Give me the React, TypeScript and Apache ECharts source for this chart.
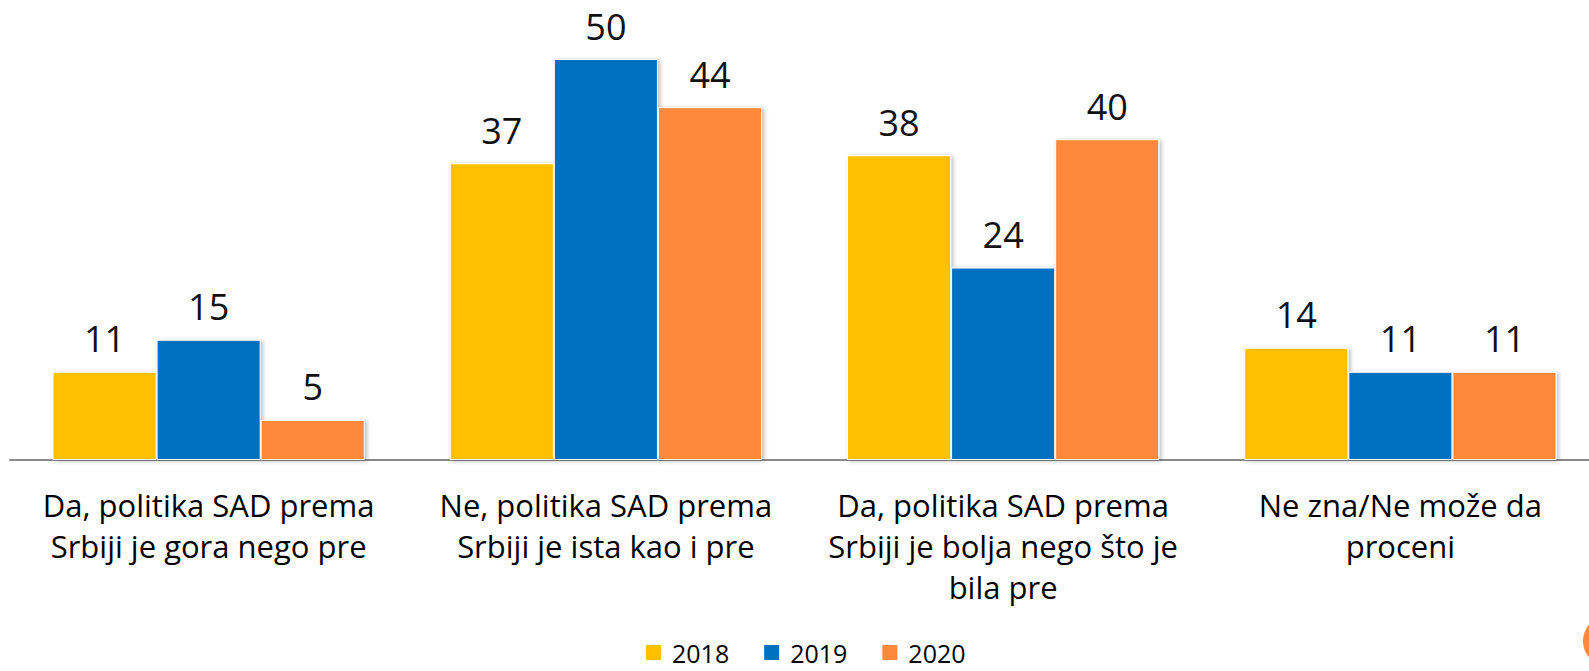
import React, { useEffect, useRef } from "react";
import * as echarts from "echarts";

const categories = [
  "Da, politika SAD prema\nSrbiji je gora nego pre",
  "Ne, politika SAD prema\nSrbiji je ista kao i pre",
  "Da, politika SAD prema\nSrbiji je bolja nego što je\nbila pre",
  "Ne zna/Ne može da\nproceni",
];
const seriesNames = ["2018", "2019", "2020"];
const values2018 = [11, 37, 38, 14];
const values2019 = [15, 50, 24, 11];
const values2020 = [5, 44, 40, 11];
const colors = ["#FFC000", "#0070C0", "#FF893B"];

const FONT = "'Open Sans', 'Noto Sans', sans-serif";

export default function App() {
  const ref = useRef<HTMLDivElement>(null);
  useEffect(() => {
    if (!ref.current) return;
    const chart = echarts.init(ref.current, undefined, { renderer: "svg" });
    const data = [values2018, values2019, values2020];
    chart.setOption({
      animation: false,
      backgroundColor: "#ffffff",
      textStyle: { fontFamily: FONT },
      grid: { left: 10, right: 11, top: 59, bottom: 211, containLabel: false },
      legend: {
        data: seriesNames,
        left: 644,
        top: 640,
        padding: 0,
        itemWidth: 17,
        itemHeight: 17,
        itemGap: 33,
        icon: "rect",
        textStyle: { fontSize: 25, lineHeight: 25, color: "#000", fontFamily: FONT, padding: [0, 0, 0, 5] },
      },
      xAxis: {
        type: "category",
        data: categories,
        axisTick: { show: false },
        axisLine: { show: true, lineStyle: { color: "#8a8a8a", width: 2 } },
        axisLabel: {
          interval: 0,
          margin: 24,
          fontSize: 31,
          lineHeight: 41,
          color: "#000",
          fontFamily: FONT,
          align: "center",
        },
      },
      yAxis: {
        type: "value",
        min: 0,
        max: 50,
        show: false,
        splitLine: { show: false },
      },
      series: seriesNames.map((name, i) => ({
        name,
        type: "bar",
        data: data[i],
        barGap: "0%",
        barCategoryGap: "21.4%",
        itemStyle: {
          color: colors[i],
          borderColor: "#ffffff",
          borderWidth: 1,
          shadowColor: "rgba(0,0,0,0.28)",
          shadowBlur: 4,
          shadowOffsetX: 2,
          shadowOffsetY: 1,
        },
        label: {
          show: true,
          position: "top",
          distance: 15,
          fontSize: 36,
          color: "#111",
          fontFamily: FONT,
        },
      })),
      graphic: [
        {
          type: "circle",
          shape: { cx: 1608, cy: 641, r: 25 },
          style: { fill: "#FF893B" },
          z: 10,
        },
      ],
    });
    return () => chart.dispose();
  }, []);
  return (
    <div style={{ position: "absolute", left: 0, top: 0, width: 1589, height: 671, overflow: "hidden", background: "#fff" }}>
      <div ref={ref} style={{ width: 1610, height: 671 }} />
    </div>
  );
}
